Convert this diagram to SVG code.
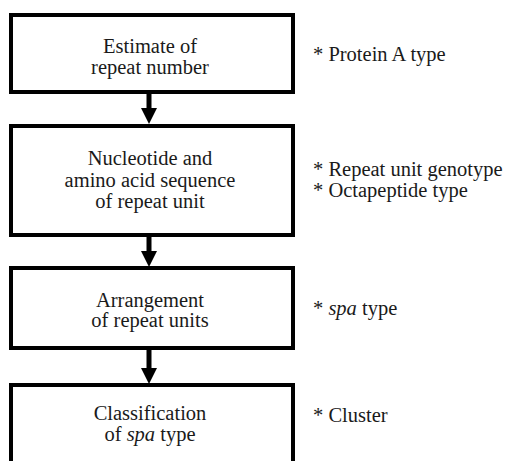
<svg xmlns="http://www.w3.org/2000/svg" width="511" height="461" viewBox="0 0 511 461">
<style>
.box{fill:#fff;stroke:#000;stroke-width:4}
.t{font-family:'Liberation Serif','Times New Roman',Tinos,'DejaVu Serif',serif;font-size:20.5px;fill:#1a1a1a}
.c{text-anchor:middle}
.i{font-style:italic}
.conn{stroke:#000;stroke-width:5;fill:none}
</style>
<defs>
<marker id="ah" markerUnits="userSpaceOnUse" markerWidth="16" markerHeight="16" viewBox="0 -8 16 16" refX="0" refY="0" orient="auto">
<path d="M0,-8 L16,0 L0,8 z" fill="#000"/>
</marker>
</defs>
<rect width="511" height="461" fill="#fff"/>
<g id="connectors">
<line class="conn" x1="149" y1="93" x2="149" y2="108" marker-end="url(#ah)"/>
<line class="conn" x1="149" y1="236" x2="149" y2="251" marker-end="url(#ah)"/>
<line class="conn" x1="149" y1="349" x2="149" y2="368" marker-end="url(#ah)"/>
</g>
<g id="n1">
<rect class="box" x="11" y="15" width="282" height="77"/>
<text class="t c" x="150" y="53" font-family="Liberation Serif, serif">Estimate of</text>
<text class="t c" x="150" y="74" font-family="Liberation Serif, serif">repeat number</text>
</g>
<g id="n2">
<rect class="box" x="11" y="126" width="282" height="109"/>
<text class="t c" x="150" y="165">Nucleotide and</text>
<text class="t c" x="150" y="186.5">amino acid sequence</text>
<text class="t c" x="150" y="208">of repeat unit</text>
</g>
<g id="n3">
<rect class="box" x="11" y="268" width="282" height="80"/>
<text class="t c" x="150" y="306.5">Arrangement</text>
<text class="t c" x="150" y="327">of repeat units</text>
</g>
<g id="n4">
<rect class="box" x="11" y="385" width="282" height="80"/>
<text class="t c" x="150" y="420">Classification</text>
<text class="t c" x="150" y="441">of <tspan class="i">spa</tspan> type</text>
</g>
<g id="notes">
<text class="t" x="313" y="61">* Protein A type</text>
<text class="t" x="313" y="176">* Repeat unit genotype</text>
<text class="t" x="313" y="197">* Octapeptide type</text>
<text class="t" x="313" y="315">* <tspan class="i">spa</tspan> type</text>
<text class="t" x="313" y="422">* Cluster</text>
</g>
</svg>
